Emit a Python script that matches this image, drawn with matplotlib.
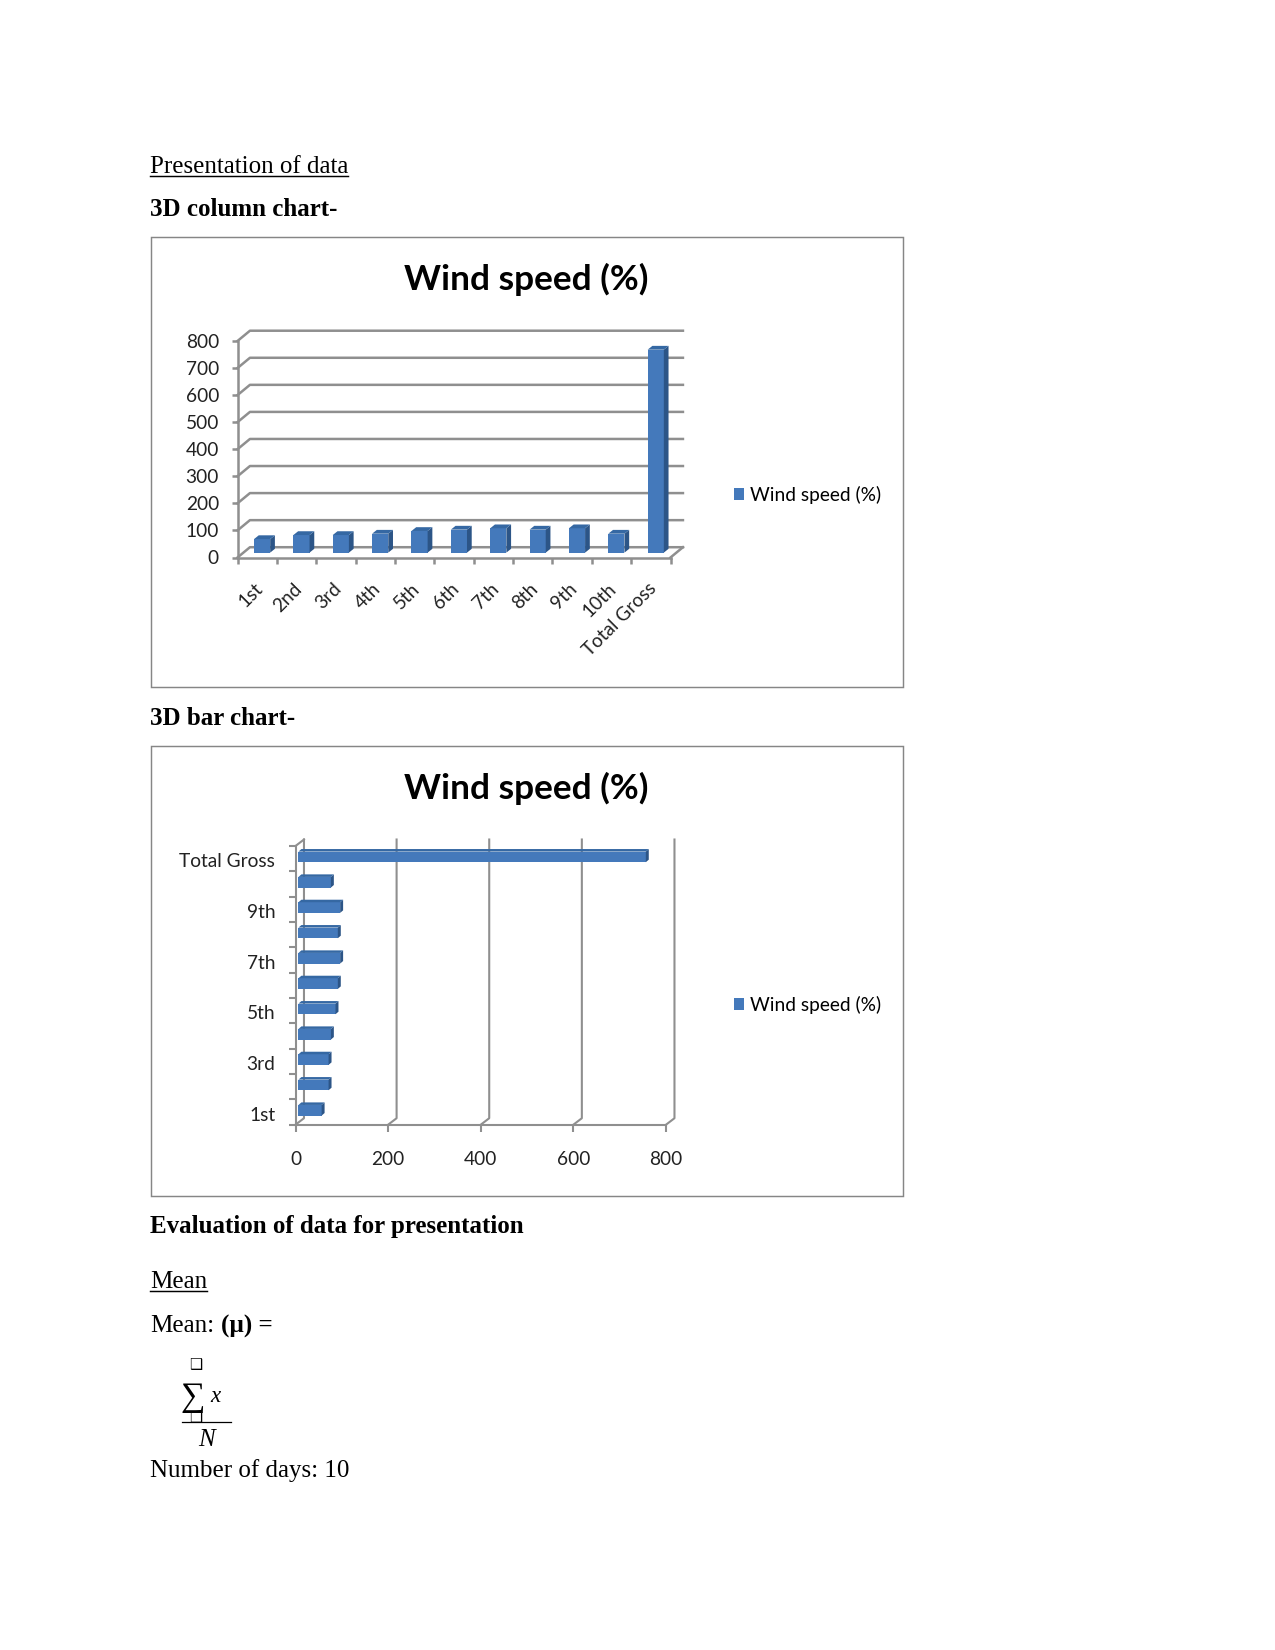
#!/usr/bin/env python3
"""Document page with two fake-3D 'Wind speed (%)' charts, saved as out.png."""
import matplotlib

matplotlib.use("Agg")
import matplotlib.pyplot as plt
from matplotlib.transforms import ScaledTranslation

WIDTH, HEIGHT = 1275, 1650
DPI = 150
SERIF = "Liberation Serif"
CHART_FONT = "Lato"
GRID = "#8f8f8f"
FRONT, SIDE, TOP = "#4479bb", "#2c5587", "#3568a3"

SERIES = "Wind speed (%)"
CATEGORIES = ["1st", "2nd", "3rd", "4th", "5th", "6th", "7th", "8th", "9th", "10th", "Total Gross"]
WIND_SPEED = [50, 65, 65, 70, 80, 85, 90, 85, 90, 70, 750]
COLUMN_TICKS = [0, 100, 200, 300, 400, 500, 600, 700, 800]
BAR_TICKS = [0, 200, 400, 600, 800]

plt.rcParams["font.family"] = CHART_FONT


def px_rect(x0, y0, x1, y1):
    """Figure-fraction rect from page pixels (y down)."""
    return [x0 / WIDTH, 1 - y1 / HEIGHT, (x1 - x0) / WIDTH, (y1 - y0) / HEIGHT]


def style_axes(ax, lw):
    ax.patch.set_visible(False)
    for side in ("top", "right"):
        ax.spines[side].set_visible(False)
    for side in ("left", "bottom"):
        ax.spines[side].set_color(GRID)
        ax.spines[side].set_linewidth(lw)


def shift_labels(fig, labels, dx, dy):
    """Nudge tick labels by page pixels."""
    offset = ScaledTranslation(dx / DPI, dy / DPI, fig.dpi_scale_trans)
    for label in labels:
        label.set_transform(label.get_transform() + offset)


def chart_frame(page, top):
    page.add_patch(plt.Rectangle((151, top), 751.5, 450, fc="white", ec="#868686", lw=0.7))
    page.text(526.4, top + 42.5, SERIES, family=CHART_FONT, weight="bold", fontsize=16.9,
              ha="center", va="center")


def add_legend(ax, page, handle, y):
    ax.legend([handle], [SERIES], loc="center left", bbox_to_anchor=(733.5, y),
              bbox_transform=page.transData, frameon=False, fontsize=9.2, borderpad=0,
              borderaxespad=0, handlelength=0.56, handleheight=0.56, handletextpad=0.32)


def column_chart(fig, page):
    ax = fig.add_axes(px_rect(237.5, 341, 670.5, 557.5))
    style_axes(ax, 1.2)
    n = len(CATEGORIES)
    ax.set_xlim(0, n)
    ax.set_ylim(0, 800)

    # wall / floor depth, in data units
    dx, dy = 0.316, 38
    for v in COLUMN_TICKS:
        ax.plot([0, dx, n + dx], [v, v + dy, v + dy], color=GRID, lw=1.2, clip_on=False, zorder=1)
    ax.plot([n, n + dx], [0, dy], color=GRID, lw=1.2, clip_on=False, zorder=1)

    # bars stand part way into the floor
    left = [i + 0.42 for i in range(n)]
    width, base, bx, by = 0.41, 18, 0.12, 14
    bars = ax.bar(left, WIND_SPEED, width, bottom=base, align="edge", color=FRONT,
                  zorder=3, label=SERIES)
    for x, v in zip(left, WIND_SPEED):
        tip = base + v
        ax.fill([x + width, x + width + bx, x + width + bx, x + width],
                [base, base + by, tip + by, tip], color=SIDE, lw=0, clip_on=False, zorder=3)
        ax.fill([x, x + bx, x + width + bx, x + width],
                [tip, tip + by, tip + by, tip], color=TOP, lw=0, clip_on=False, zorder=3)

    ax.set_yticks(COLUMN_TICKS)
    ax.set_xticks(range(n + 1))
    ax.set_xticklabels([])
    ax.set_xticks([i + 0.5 for i in range(n)], CATEGORIES, minor=True,
                  rotation=45, ha="right", va="top", rotation_mode="anchor")
    ax.tick_params(axis="both", which="major", color=GRID, width=1.2, length=2.9,
                   labelsize=9.2, labelcolor="#222222")
    ax.tick_params(axis="y", pad=6)
    ax.tick_params(axis="x", which="minor", length=0, pad=10, labelsize=9.1, labelcolor="#222222")
    shift_labels(fig, ax.get_xticklabels(minor=True), -3.5, -1.5)
    add_legend(ax, page, bars, 495)


def bar_chart(fig, page):
    ax = fig.add_axes(px_rect(295.5, 846, 666, 1124.7))
    style_axes(ax, 1.0)
    n = len(CATEGORIES)
    ax.set_xlim(0, 800)
    ax.set_ylim(0, n)

    dx, dy = 18.3, 0.256
    for v in BAR_TICKS:
        ax.plot([v, v + dx, v + dx], [0, dy, n + dy], color=GRID, lw=1.0, clip_on=False, zorder=1)
    ax.plot([0, dx], [n, n + dy], color=GRID, lw=1.0, clip_on=False, zorder=1)

    low = [i + 0.36 for i in range(n)]
    height, base, bx, by = 0.42, 6.4, 6.4, 0.1
    bars = ax.barh(low, WIND_SPEED, height, left=base, align="edge", color=FRONT,
                   zorder=3, label=SERIES)
    for y, v in zip(low, WIND_SPEED):
        tip = base + v
        ax.fill([tip, tip + bx, tip + bx, tip], [y, y + by, y + height + by, y + height],
                color=SIDE, lw=0, clip_on=False, zorder=3)
        ax.fill([base, base + bx, tip + bx, tip], [y + height, y + height + by, y + height + by, y + height],
                color=TOP, lw=0, clip_on=False, zorder=3)

    ax.set_xticks(BAR_TICKS)
    ax.set_yticks(range(n + 1))
    ax.set_yticklabels([])
    # only every other category name fits
    ax.set_yticks([i + 0.5 for i in range(0, n, 2)], CATEGORIES[::2][:-1] + [CATEGORIES[-1]], minor=True)
    ax.tick_params(axis="both", which="major", color=GRID, width=1.0, length=3.4,
                   labelsize=9.2, labelcolor="#222222")
    ax.tick_params(axis="x", pad=9.1)
    ax.tick_params(axis="y", which="minor", length=0, pad=9.7, labelsize=9.2, labelcolor="#222222")
    shift_labels(fig, ax.get_yticklabels(minor=True), 0, -1.5)
    add_legend(ax, page, bars, 1004.5)


def body_text(page):
    kw = dict(family=SERIF, fontsize=12, va="baseline", color="black")
    page.text(150.3, 173, "Presentation of data", **kw)
    page.plot([150.3, 347.5], [175.5, 175.5], color="black", lw=0.7)
    page.text(150.3, 216, "3D column chart-", weight="bold", **kw)
    page.text(150.3, 725, "3D bar chart-", weight="bold", **kw)
    page.text(150.3, 1233, "Evaluation of data for presentation", weight="bold", **kw)
    page.text(150.3, 1288, "Mean", **kw)
    page.plot([150.3, 206.7], [1291, 1291], color="black", lw=0.7)
    page.text(150.3, 1332.2, "Mean:", **kw)
    page.text(221, 1332.2, "(µ) =", weight="bold", **kw)
    page.text(150.3, 1476.5, "Number of days: 10", **kw)

    # mean formula
    page.text(196, 1369, "\u2751", family="DejaVu Sans", fontsize=7, ha="center", va="baseline")
    page.text(192.5, 1406, "\u2211", family=SERIF, fontsize=16.5, ha="center", va="baseline")
    page.text(196, 1421.7, "\u2751", family="DejaVu Sans", fontsize=7, ha="center", va="baseline")
    page.text(210, 1401.7, "x", family=SERIF, style="italic", fontsize=11, va="baseline")
    page.plot([182.3, 230.7], [1422.3, 1422.3], color="black", lw=0.6)
    page.text(198, 1445.7, "N", family=SERIF, style="italic", fontsize=12, va="baseline")


def main():
    fig = plt.figure(figsize=(WIDTH / DPI, HEIGHT / DPI), dpi=DPI, facecolor="white")
    page = fig.add_axes([0, 0, 1, 1])
    page.set_xlim(0, WIDTH)
    page.set_ylim(HEIGHT, 0)
    page.axis("off")

    chart_frame(page, 236.6)
    chart_frame(page, 745.6)
    body_text(page)
    column_chart(fig, page)
    bar_chart(fig, page)

    fig.savefig("out.png", dpi=DPI)


if __name__ == "__main__":
    main()
